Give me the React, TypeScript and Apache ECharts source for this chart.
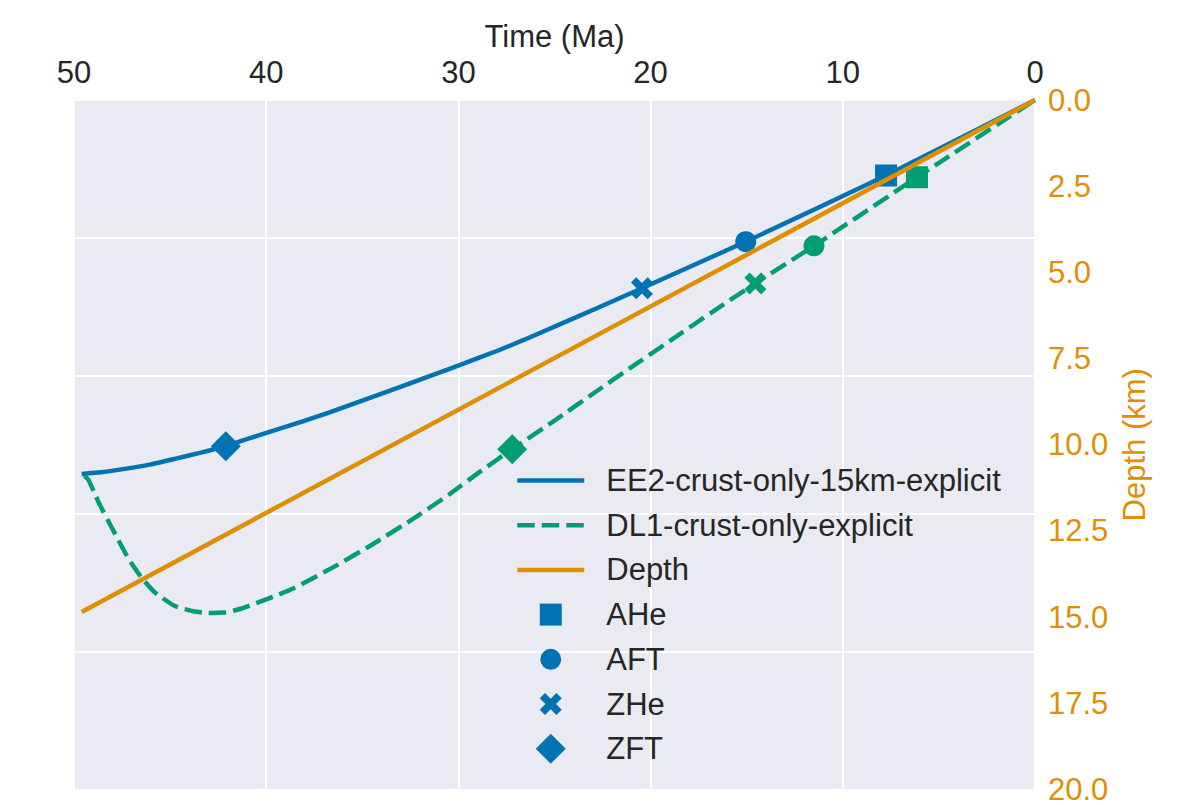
import React, { useEffect, useRef } from "react";
import * as echarts from "echarts";

// ---- data (time in Ma, depth in km) ----
const eeTime = [49.6, 48.6, 47.35, 46.0, 44.75, 43.4, 42.1, 40.8, 39.5, 38.1, 36.7, 34.1, 31.5, 29.7, 28.0, 26.6, 25.4, 22.8, 20.45, 15.05, 7.75, 0];
const eeDepth = [10.85, 10.8, 10.7, 10.57, 10.41, 10.23, 10.04, 9.8, 9.57, 9.32, 9.06, 8.54, 8.01, 7.64, 7.28, 6.96, 6.67, 6.04, 5.46, 4.11, 2.19, 0];

const dlTime = [49.45, 49.25, 48.95, 48.65, 48.04, 47.17, 46.48, 45.78, 44.75, 43.8, 43.0, 42.1, 41.28, 39.54, 38.6, 36.5, 34.5, 32.5, 30.5, 28.8, 27.2, 25.0, 23.0, 21.0, 19.0, 16.8, 14.55, 11.5, 6.14, 0];
const dlDepth = [10.9, 11.02, 11.38, 11.75, 12.4, 13.3, 13.86, 14.29, 14.68, 14.83, 14.88, 14.86, 14.75, 14.39, 14.17, 13.55, 12.9, 12.2, 11.45, 10.75, 10.13, 9.3, 8.52, 7.75, 6.99, 6.15, 5.32, 4.23, 2.24, 0];

const depthTime = [49.6, 0];
const depthDepth = [14.85, 0];

// markers: [EE2 (blue), DL1 (green)]
const aheTime = [7.75, 6.14];
const aheDepth = [2.19, 2.24];
const aftTime = [15.05, 11.5];
const aftDepth = [4.11, 4.23];
const zheTime = [20.45, 14.55];
const zheDepth = [5.46, 5.32];
const zftTime = [42.1, 27.2];
const zftDepth = [10.04, 10.13];

const timeTicks = [0, 50, 10];
const depthTicks = [0, 20, 2.5];

const seriesNames = ["EE2-crust-only-15km-explicit", "DL1-crust-only-explicit", "Depth"];
const markerNames = ["AHe", "AFT", "ZHe", "ZFT"];

const BLUE = "#0173B2";
const GREEN = "#029E73";
const ORANGE = "#DE8F05";
const TEXT = "#262626";
const FONT = '"Liberation Sans", Arial, Helvetica, sans-serif';
const FS = 31;
const LW = 4.5;

const X_PATH = "path://M0,2.4L2.4,0L5,2.6L7.6,0L10,2.4L7.4,5L10,7.6L7.6,10L5,7.4L2.4,10L0,7.6L2.6,5Z";
const X_PAD = "path://M0,0M30,30M4,9.28L9.28,4L15,9.72L20.72,4L26,9.28L20.28,15L26,20.72L20.72,26L15,20.28L9.28,26L4,20.72L9.72,15Z";
const SQ_PAD = "path://M0,0M30,30M4,4L26,4L26,26L4,26Z";
const CI_PAD = "path://M0,0M30,30M4.5,15A10.5,10.5,0,1,1,25.5,15A10.5,10.5,0,1,1,4.5,15Z";
const DI_PATH = "path://M15,0L30,15L15,30L0,15Z";

const zip = (a: number[], b: number[]) => a.map((v, i) => [v, b[i]]);
const markerData = (t: number[], d: number[]) =>
  t.map((v, i) => ({ value: [v, d[i]], itemStyle: { color: i === 0 ? BLUE : GREEN } }));

export default function App() {
  const ref = useRef<HTMLDivElement>(null);
  useEffect(() => {
    if (!ref.current) return;
    const chart = echarts.init(ref.current, undefined, { renderer: "svg" });
    const option: any = {
      animation: false,
      backgroundColor: "#ffffff",
      textStyle: { fontFamily: FONT },
      grid: {
        left: 74,
        top: 100,
        width: 961,
        height: 695,
        show: true,
        backgroundColor: "#EAEAF2",
        borderWidth: 0,
      },
      xAxis: {
        type: "value",
        position: "top",
        min: timeTicks[0],
        max: timeTicks[1],
        interval: timeTicks[2],
        inverse: true,
        name: "Time (Ma)",
        nameLocation: "middle",
        nameGap: 48,
        nameTextStyle: { color: TEXT, fontSize: FS, fontFamily: FONT },
        axisLine: { show: false },
        axisTick: { show: false },
        axisLabel: { color: TEXT, fontSize: FS, fontFamily: FONT, margin: 12 },
        splitLine: { show: true, lineStyle: { color: "#ffffff", width: 2 } },
      },
      yAxis: [
        {
          type: "value",
          min: 0,
          max: 5,
          interval: 1,
          position: "left",
          axisLabel: { show: false },
          axisLine: { show: false },
          axisTick: { show: false },
          splitLine: { show: true, lineStyle: { color: "#ffffff", width: 2 } },
        },
        {
          type: "value",
          min: depthTicks[0],
          max: depthTicks[1],
          interval: depthTicks[2],
          inverse: true,
          position: "right",
          name: "Depth (km)",
          nameLocation: "middle",
          nameRotate: 90,
          nameGap: 83,
          nameTextStyle: { color: ORANGE, fontSize: FS, fontFamily: FONT },
          axisLine: { show: false },
          axisTick: { show: false },
          axisLabel: {
            color: ORANGE,
            fontSize: FS,
            fontFamily: FONT,
            margin: 13,
            formatter: (v: number) => v.toFixed(1),
          },
          splitLine: { show: false },
        },
      ],
      legend: {
        orient: "vertical",
        left: 515,
        top: 465,
        itemWidth: 67,
        itemHeight: 30,
        itemGap: 13.7,
        padding: 0,
        selectedMode: false,
        lineStyle: { width: LW },
        textStyle: {
          color: TEXT,
          fontSize: FS,
          fontFamily: FONT,
          lineHeight: 30,
          padding: [0, 0, 0, 17],
        },
        data: [
          { name: seriesNames[0], itemStyle: { opacity: 0 } },
          { name: seriesNames[1], itemStyle: { opacity: 0 } },
          { name: seriesNames[2], itemStyle: { opacity: 0 } },
          { name: markerNames[0], icon: SQ_PAD },
          { name: markerNames[1], icon: CI_PAD },
          { name: markerNames[2], icon: X_PAD },
          { name: markerNames[3], icon: DI_PATH },
        ],
      },
      series: [
        {
          name: seriesNames[0],
          type: "line",
          yAxisIndex: 1,
          data: zip(eeTime, eeDepth),
          symbol: "none",
          smooth: 0.15,
          lineStyle: { color: BLUE, width: LW },
          itemStyle: { color: BLUE },
          z: 2,
        },
        {
          name: seriesNames[1],
          type: "line",
          yAxisIndex: 1,
          data: zip(dlTime, dlDepth),
          symbol: "none",
          smooth: 0.15,
          lineStyle: { color: GREEN, width: LW, type: [17.5, 7] },
          itemStyle: { color: GREEN },
          z: 2,
        },
        {
          name: markerNames[0],
          type: "scatter",
          yAxisIndex: 1,
          symbol: "rect",
          symbolSize: 22,
          itemStyle: { color: BLUE, opacity: 1 },
          data: markerData(aheTime, aheDepth),
          z: 3,
        },
        {
          name: markerNames[1],
          type: "scatter",
          yAxisIndex: 1,
          symbol: "circle",
          symbolSize: 21,
          itemStyle: { color: BLUE, opacity: 1 },
          data: markerData(aftTime, aftDepth),
          z: 3,
        },
        {
          name: markerNames[2],
          type: "scatter",
          yAxisIndex: 1,
          symbol: X_PATH,
          symbolSize: 22,
          itemStyle: { color: BLUE, opacity: 1 },
          data: markerData(zheTime, zheDepth),
          z: 3,
        },
        {
          name: markerNames[3],
          type: "scatter",
          yAxisIndex: 1,
          symbol: "diamond",
          symbolSize: 30,
          itemStyle: { color: BLUE, opacity: 1 },
          data: markerData(zftTime, zftDepth),
          z: 3,
        },
        {
          name: seriesNames[2],
          type: "line",
          yAxisIndex: 1,
          data: zip(depthTime, depthDepth),
          symbol: "none",
          lineStyle: { color: ORANGE, width: LW },
          itemStyle: { color: ORANGE },
          z: 4,
        },
      ],
    };
    chart.setOption(option);
    return () => chart.dispose();
  }, []);
  return (
    <div
      ref={ref}
      style={{ position: "absolute", left: 0, top: 0, width: 1198, height: 805 }}
    />
  );
}
